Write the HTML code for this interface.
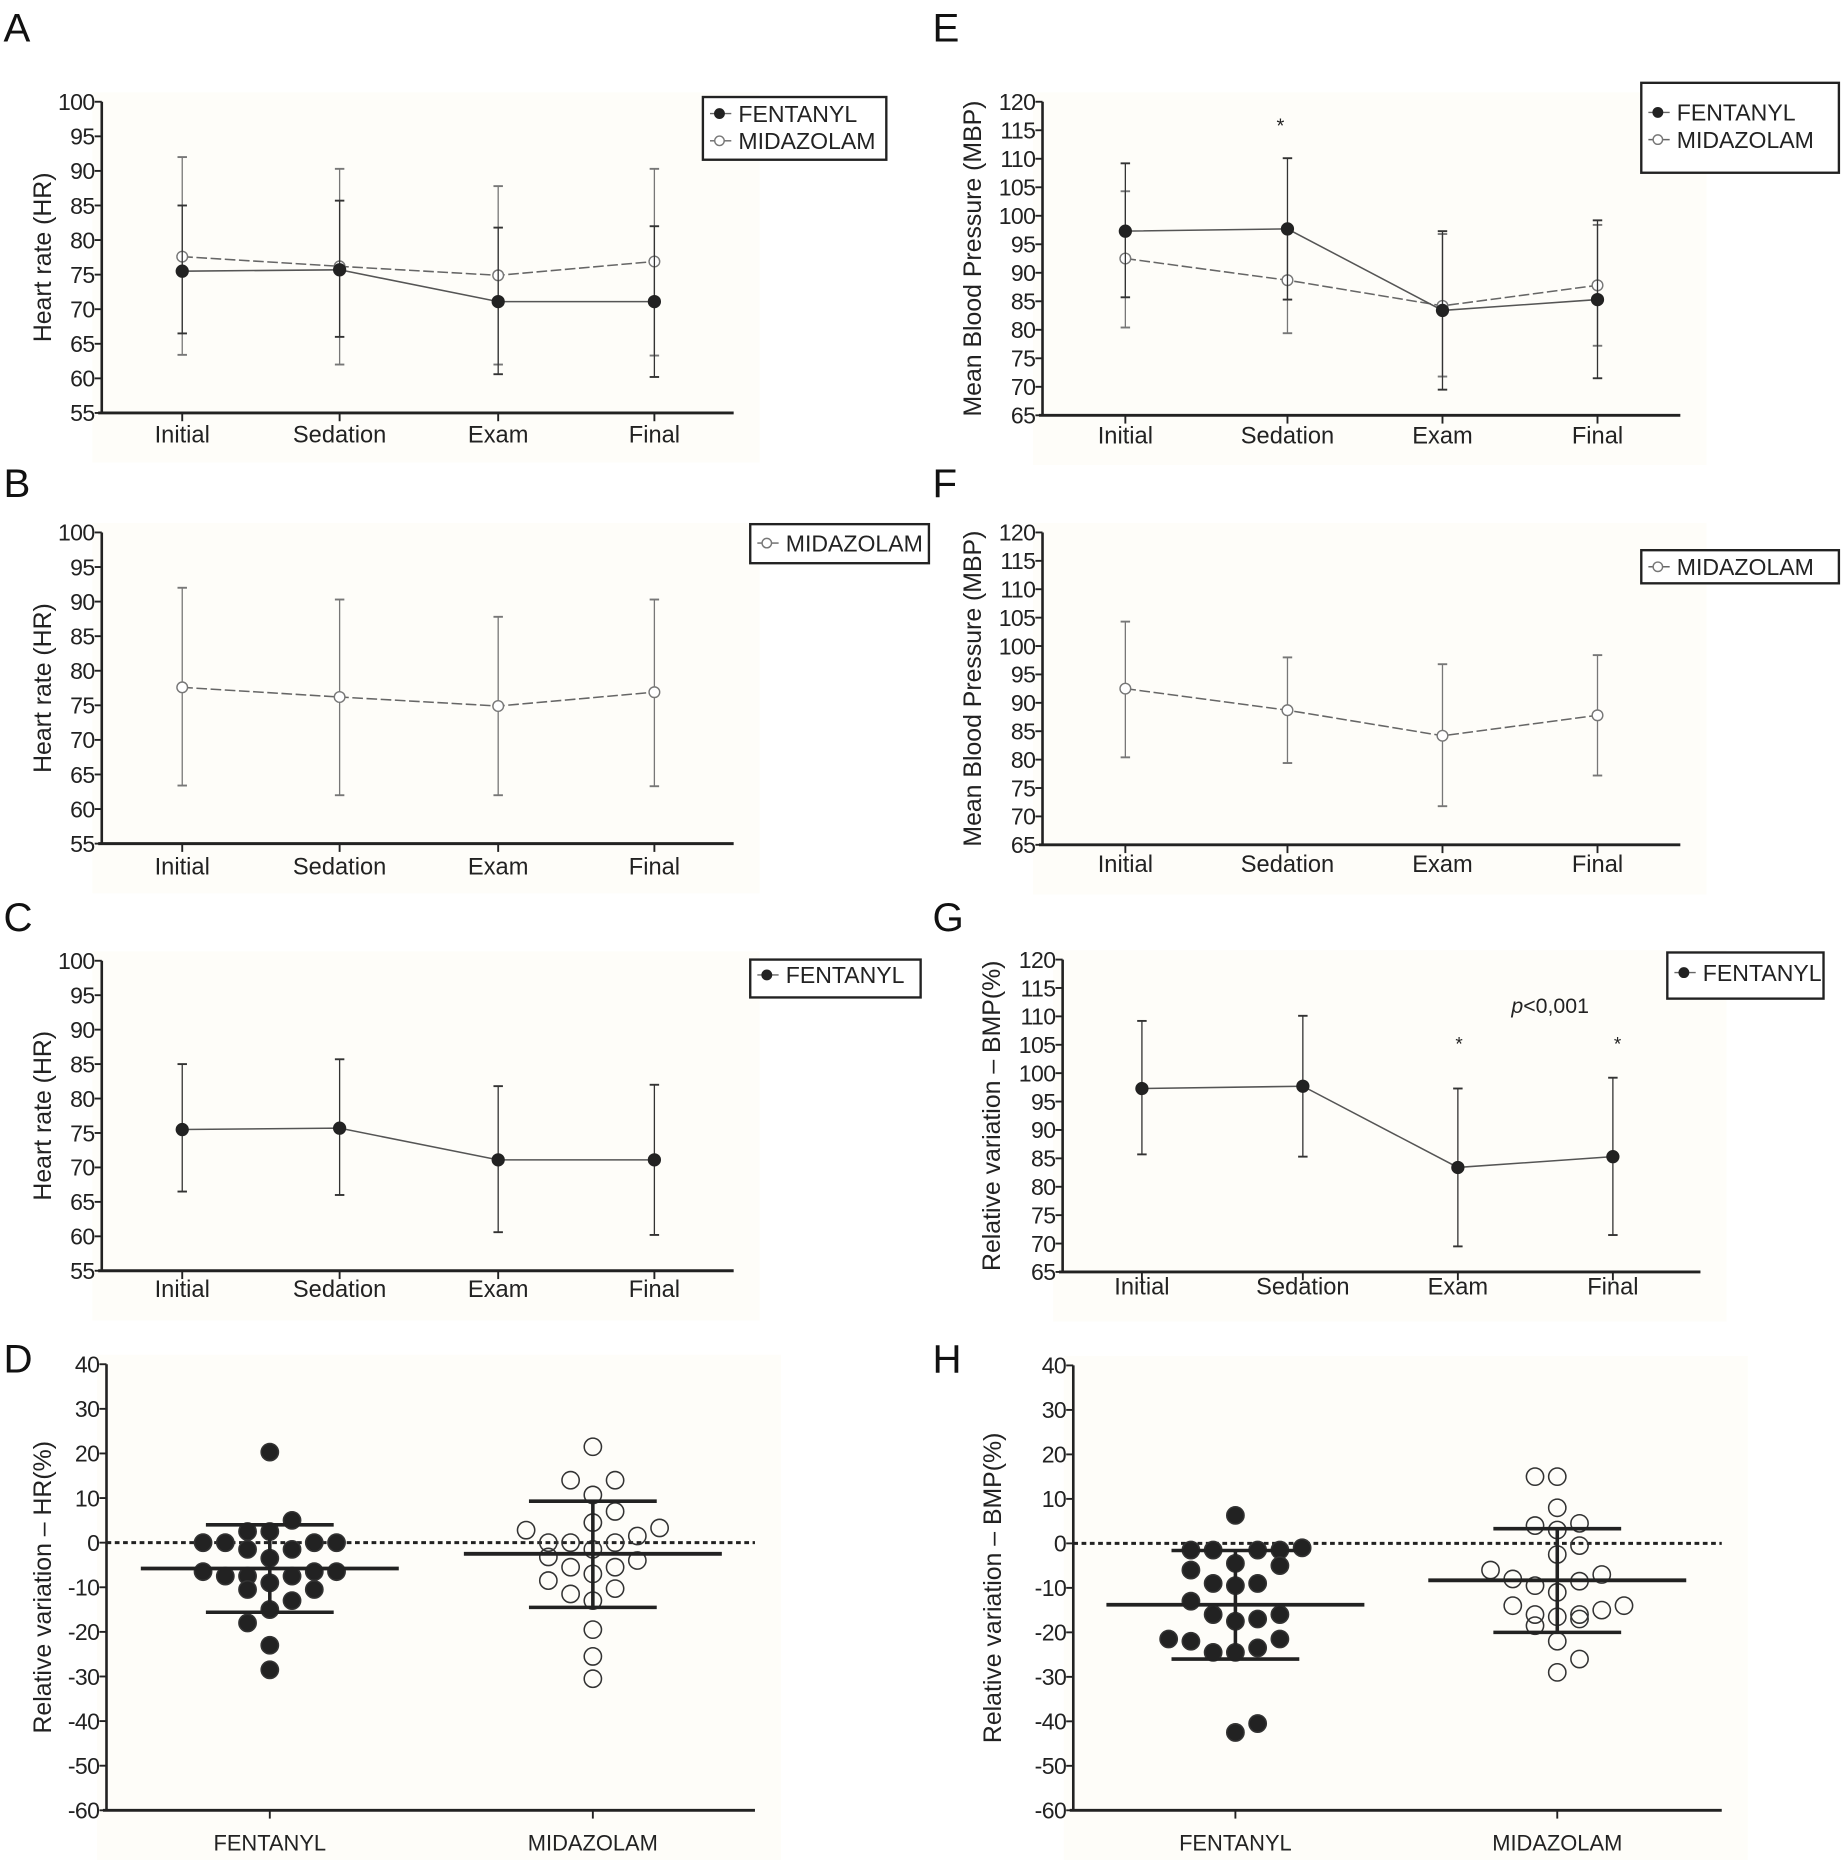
<!DOCTYPE html>
<html><head><meta charset="utf-8">
<style>
html,body{margin:0;padding:0;background:#fff;}
svg{display:block;font-family:"Liberation Sans",sans-serif;}
</style></head>
<body>
<svg id="fig" width="1846" height="1860" viewBox="0 0 1560 1572" preserveAspectRatio="none" xmlns="http://www.w3.org/2000/svg"></svg>
<script>
// ---- data ----
const timeCats = ["Initial","Sedation","Exam","Final"];
const hrFentMean = [75.5, 75.7, 71.1, 71.1];
const hrFentHi = [85, 85.7, 81.8, 82];
const hrFentLo = [66.5, 66, 60.6, 60.2];
const hrMidaMean = [77.6, 76.2, 74.9, 76.9];
const hrMidaHi = [92, 90.3, 87.8, 90.3];
const hrMidaLo = [63.4, 62, 62, 63.3];
const bpFentMean = [97.3, 97.7, 83.4, 85.3];
const bpFentHi = [109.2, 110.1, 97.3, 99.2];
const bpFentLo = [85.7, 85.3, 69.5, 71.5];
const bpMidaMean = [92.5, 88.7, 84.2, 87.8];
const bpMidaHi = [104.3, 98, 96.8, 98.4];
const bpMidaLo = [80.4, 79.4, 71.8, 77.2];
const hrTicks = [55,60,65,70,75,80,85,90,95,100];
const bpTicks = [65,70,75,80,85,90,95,100,105,110,115,120];
const relTicks = [-60,-50,-40,-30,-20,-10,0,10,20,30,40];
const groupCats = ["FENTANYL","MIDAZOLAM"];
const dFentVals = [20.3,5,2.5,2.5,0,0,0,0,-1.5,-1.5,-3.5,-6.5,-7.5,-7.5,-7.5,-6.5,-6.5,-9,-10.5,-10.5,-13,-15,-18,-23,-28.5];
const dFentSlot = [0,1,-1,0,-3,-2,2,3,-1,1,0,-3,-2,-1,1,2,3,0,-1,2,1,0,-1,0,0];
const dFentStats = [-5.8, 4, -15.6];
const dMidaVals = [21.5,14,14,10.7,7,4.5,3.3,2.8,1.5,0,0,0,-1.5,-3.2,-4,-5.5,-5.5,-7,-8.5,-10.3,-11.5,-13,-19.5,-25.5,-30.5];
const dMidaSlot = [0,-1,1,0,1,0,3,-3,2,-2,-1,1,0,-2,2,-1,1,0,-2,1,-1,0,0,0,0];
const dMidaStats = [-2.5, 9.3, -14.5];
const hFentVals = [6.3,-1.5,-1.5,-1.5,-1.5,-1,-4.5,-6,-5,-9,-9.5,-9,-13,-16,-17.5,-17,-16,-21.5,-22,-24.5,-24.5,-23.5,-21.5,-42.5,-40.5];
const hFentSlot = [0,-2,-1,1,2,3,0,-2,2,-1,0,1,-2,-1,0,1,2,-3,-2,-1,0,1,2,0,1];
const hFentStats = [-13.8, -1.6, -26];
const hMidaVals = [15,15,8,4,4.5,3,-0.5,-2.5,-6,-8,-9.5,-8.5,-7,-11,-14,-14,-16,-15,-16.5,-17,-16,-18.5,-22,-26,-29];
const hMidaSlot = [-1,0,0,-1,1,0,1,0,-3,-2,-1,1,2,0,-2,3,-1,2,0,1,1,-1,0,1,0];
const hMidaStats = [-8.3, 3.3, -20];

const svg = document.getElementById('fig');
const NS = "http://www.w3.org/2000/svg";
function el(tag, attrs, parent, text){
  const e = document.createElementNS(NS, tag);
  for (const k in attrs) e.setAttribute(k, attrs[k]);
  if (text !== undefined) e.textContent = text;
  (parent||svg).appendChild(e);
  return e;
}
function makeScale(vmin, vmax, pTop, pBot){ return v => pBot - (v - vmin) / (vmax - vmin) * (pBot - pTop); }

function axes(g, c, ticks){
  const y = makeScale(c.vmin, c.vmax, c.yT, c.yB);
  el('rect',{x:c.ax-8,y:c.yT-8,width:c.xEnd-c.ax+30,height:c.yB-c.yT+50,fill:'#fefdf9'},g);
  const ya = el('line',{x1:c.ax,y1:c.yT,x2:c.ax,y2:c.yB,stroke:'#222','stroke-width':2.2},g);
   
  const xa = el('line',{x1:c.ax-3,y1:c.yB,x2:c.xEnd,y2:c.yB,stroke:'#222','stroke-width':2.5},g);
   
  ticks.forEach(t=>{
    el('line',{x1:c.ax-6,y1:y(t),x2:c.ax,y2:y(t),stroke:'#222','stroke-width':1.6},g);
    const tl = el('text',{x:c.ax-6,y:y(t)+7,'text-anchor':'end','font-size':c.tfs||19.5,fill:'#222','letter-spacing':'-0.5'},g,String(t));
     
  });
  c.cats.forEach((cx,i)=>{
    el('line',{x1:cx,y1:c.yB,x2:cx,y2:c.yB+7,stroke:'#222','stroke-width':1.6},g);
    const cl = el('text',{x:cx,y:c.labY,'text-anchor':'middle','font-size':c.cfs||20,fill:'#222'},g,c.names[i]);
     
  });
  const yl = el('text',{transform:`translate(${c.ylx},${(c.yT+c.yB)/2}) rotate(-90)`,'text-anchor':'middle','font-size':c.yfs||21,fill:'#222'},g,c.ylabel);
   
  const pl = el('text',{x:c.px,y:c.py,'font-size':34,fill:'#111'},g,c.letter);
   
  return y;
}
function series(g, c, y, mean, hi, lo, filled){
  const col = filled ? '#333' : '#777';
  const pts = mean.map((m,i)=>c.cats[i]+','+y(m)).join(' ');
  const ln = el('polyline',{points:pts,fill:'none',stroke:filled?'#555':'#666','stroke-width':1.3,'stroke-dasharray':filled?'none':'9 3'},g);
   
  mean.forEach((m,i)=>{
    const x=c.cats[i];
    const eb = el('line',{x1:x,y1:y(hi[i]),x2:x,y2:y(lo[i]),stroke:col,'stroke-width':1.1},g);
     
    el('line',{x1:x-4,y1:y(hi[i]),x2:x+4,y2:y(hi[i]),stroke:col,'stroke-width':1.6},g);
    el('line',{x1:x-4,y1:y(lo[i]),x2:x+4,y2:y(lo[i]),stroke:col,'stroke-width':1.6},g);
    const p = el('circle',{cx:x,cy:y(m),r:filled?5:4.5,fill:filled?'#222':'#fff',stroke:filled?'#222':'#777','stroke-width':1.2},g);
     
  });
}
function legend(g, x, y, w, h, entries){
  const b = el('rect',{x:x,y:y,width:w,height:h,fill:'#fff',stroke:'#222','stroke-width':2},g);
   
  entries.forEach((e,i)=>{
    const cy = e.cy;
    el('line',{x1:x+6,y1:cy,x2:x+24,y2:cy,stroke:'#666','stroke-width':1.2},g);
    el('circle',{cx:x+14,cy:cy,r:4,fill:e.filled?'#222':'#fff',stroke:e.filled?'#222':'#777','stroke-width':1.2},g);
    const t = el('text',{x:x+30,y:cy+7,'font-size':19.5,fill:'#222'},g,e.name);
     
  });
}
function panelLine(cfg, ticks, sers, leg){
  const g = el('g',{});
   
  const y = axes(g, cfg, ticks);
  sers.forEach(s=>series(g,cfg,y,s[0],s[1],s[2],s[3]));
  legend(g, leg.x, leg.y, leg.w, leg.h, leg.entries);
  return {g,y};
}
const hrBase = {vmin:55,vmax:100,ax:86,xEnd:620,cats:[154,287,421,553],names:timeCats,ylabel:'Heart rate (HR)',ylx:43,px:3};
const bpBase = {vmin:65,vmax:120,ax:881,xEnd:1420,cats:[951,1088,1219,1350],names:timeCats,ylabel:'Mean Blood Pressure (MBP)',ylx:829,px:788};

panelLine(Object.assign({},hrBase,{yT:86,yB:349,labY:374,letter:'A',py:35}),hrTicks,
  [[hrMidaMean,hrMidaHi,hrMidaLo,false],[hrFentMean,hrFentHi,hrFentLo,true]],
  {x:594,y:82,w:155,h:53,entries:[{name:'FENTANYL',filled:true,cy:96},{name:'MIDAZOLAM',filled:false,cy:119}]});
panelLine(Object.assign({},hrBase,{yT:450,yB:713,labY:739,letter:'B',py:420}),hrTicks,
  [[hrMidaMean,hrMidaHi,hrMidaLo,false]],
  {x:634,y:443,w:151,h:33,entries:[{name:'MIDAZOLAM',filled:false,cy:459}]});
panelLine(Object.assign({},hrBase,{yT:812,yB:1074,labY:1096,letter:'C',py:787}),hrTicks,
  [[hrFentMean,hrFentHi,hrFentLo,true]],
  {x:634,y:811,w:144,h:32,entries:[{name:'FENTANYL',filled:true,cy:824}]});
const pe = panelLine(Object.assign({},bpBase,{yT:86,yB:351,labY:375,letter:'E',py:35}),bpTicks,
  [[bpMidaMean,bpMidaHi,bpMidaLo,false],[bpFentMean,bpFentHi,bpFentLo,true]],
  {x:1387,y:70,w:167,h:76,entries:[{name:'FENTANYL',filled:true,cy:95},{name:'MIDAZOLAM',filled:false,cy:118}]});
el('text',{x:1082,y:112,'text-anchor':'middle','font-size':17,fill:'#222'},pe.g,'*');
panelLine(Object.assign({},bpBase,{yT:450,yB:714,labY:737,letter:'F',py:420}),bpTicks,
  [[bpMidaMean,bpMidaHi,bpMidaLo,false]],
  {x:1387,y:465,w:167,h:28,entries:[{name:'MIDAZOLAM',filled:false,cy:479}]});
const pg = panelLine({vmin:65,vmax:120,ax:898,xEnd:1437,cats:[965,1101,1232,1363],names:timeCats,ylabel:'Relative variation \u2013 BMP(%)',ylx:845,px:788,yT:811,yB:1075,labY:1094,letter:'G',py:787},bpTicks,
  [[bpFentMean,bpFentHi,bpFentLo,true]],
  {x:1409,y:805,w:132,h:39,entries:[{name:'FENTANYL',filled:true,cy:822}]});
const pt = el('text',{x:1310,y:856,'text-anchor':'middle','font-size':18,fill:'#222'},pg.g);
el('tspan',{'font-style':'italic'},pt,'p'); el('tspan',{},pt,'<0,001');
el('text',{x:1233,y:888,'text-anchor':'middle','font-size':16,fill:'#222'},pg.g,'*');
el('text',{x:1367,y:888,'text-anchor':'middle','font-size':16,fill:'#222'},pg.g,'*');

function panelScatter(cfg, sets){
  const g = el('g',{});
   
  const y = axes(g, cfg, relTicks);
  const zl = el('line',{x1:cfg.ax,y1:y(0),x2:cfg.xEnd,y2:y(0),stroke:'#222','stroke-width':2.5,'stroke-dasharray':'4 3'},g);
   
  sets.forEach((s,k)=>{
    const cx = cfg.cats[k];
    s.vals.forEach((v,i)=>{
      const p = el('circle',{cx:cx+s.slot[i]*18.8,cy:y(v),r:7.3,fill:s.filled?'#222':'none',stroke:'#333','stroke-width':1.3},g);
       
    });
    const st = s.stats;
    el('line',{x1:cx,y1:y(st[1]),x2:cx,y2:y(st[2]),stroke:'#222','stroke-width':3},g);
    const m = el('line',{x1:cx-109,y1:y(st[0]),x2:cx+109,y2:y(st[0]),stroke:'#222','stroke-width':3.2},g);
     
    el('line',{x1:cx-54,y1:y(st[1]),x2:cx+54,y2:y(st[1]),stroke:'#222','stroke-width':3},g);
    el('line',{x1:cx-54,y1:y(st[2]),x2:cx+54,y2:y(st[2]),stroke:'#222','stroke-width':3},g);
  });
}
panelScatter({vmin:-60,vmax:40,ax:90,xEnd:638,yT:1153,yB:1530,cats:[228,501],names:groupCats,labY:1564,ylabel:'Relative variation \u2013 HR(%)',ylx:43,px:3,py:1160,letter:'D',cfs:18.5},
  [{vals:dFentVals,slot:dFentSlot,stats:dFentStats,filled:true},{vals:dMidaVals,slot:dMidaSlot,stats:dMidaStats,filled:false}]);
panelScatter({vmin:-60,vmax:40,ax:907,xEnd:1455,yT:1154,yB:1530,cats:[1044,1316],names:groupCats,labY:1564,ylabel:'Relative variation \u2013 BMP(%)',ylx:846,px:788,py:1160,letter:'H',cfs:18.5},
  [{vals:hFentVals,slot:hFentSlot,stats:hFentStats,filled:true},{vals:hMidaVals,slot:hMidaSlot,stats:hMidaStats,filled:false}]);
</script>
</body></html>
